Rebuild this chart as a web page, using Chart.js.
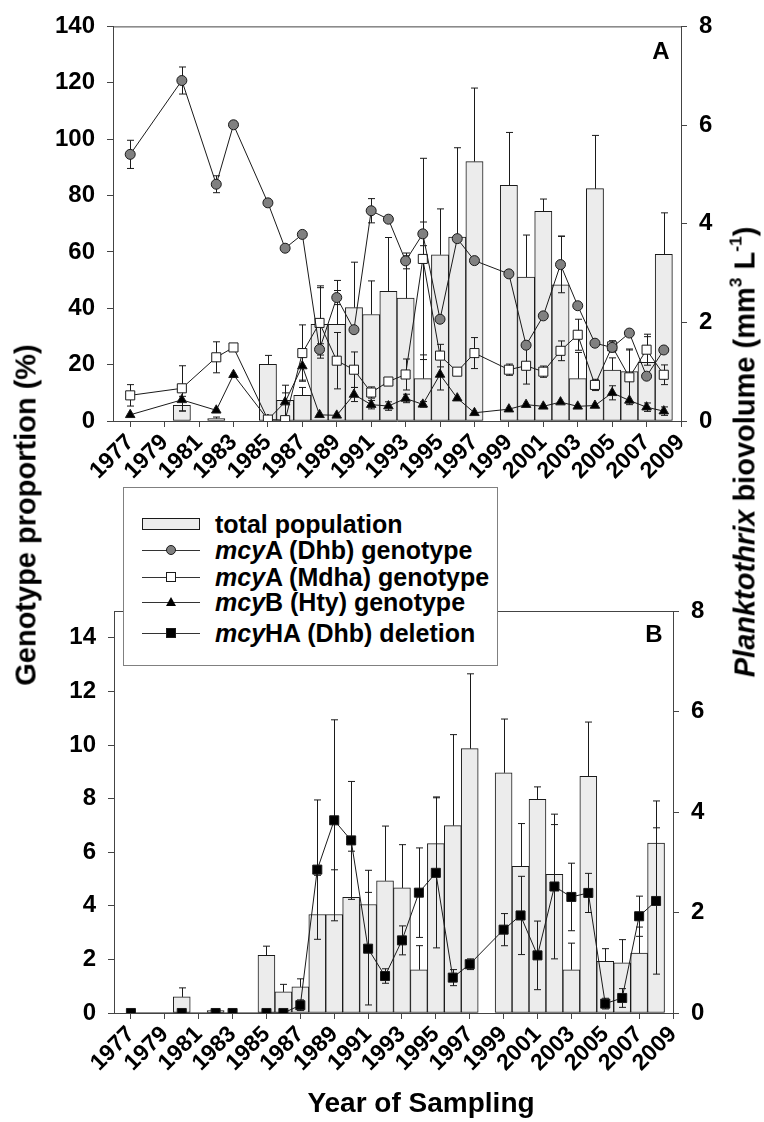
<!DOCTYPE html>
<html>
<head>
<meta charset="utf-8">
<title>Planktothrix genotypes 1977-2009</title>
<script src="https://cdn.jsdelivr.net/npm/chart.js@4.4.1/dist/chart.umd.min.js"></script>
<style>
  body { margin: 0; background: #fff; }
  #page { position: relative; width: 764px; height: 1122px; overflow: hidden;
          font-family: "Liberation Sans", Arial, sans-serif; font-weight: bold; color: #000; }
  #page canvas { position: absolute; left: 0; }
  .title { position: absolute; white-space: nowrap; line-height: 1; }
  .vert { transform: translate(-50%, -50%) rotate(-90deg); }
  .title sup { font-size: 60%; vertical-align: 0; position: relative; top: -0.75em; }
  #legend { position: absolute; left: 123px; top: 487px; width: 373px; height: 177px;
            border: 1.5px solid #808080; background: #fff; }
  .row { position: absolute; left: 18px; height: 26px; display: flex; align-items: center;
         font-size: 25px; white-space: nowrap; }
  .row svg { margin-right: 15px; flex: none; }
</style>
</head>
<body>
<div id="page">
  <canvas id="panelA" width="764" height="490" style="top:0"></canvas>
  <canvas id="panelB" width="764" height="642" style="top:480px"></canvas>
  <div class="title vert" style="left:26px; top:515px; font-size:29px">Genotype proportion (%)</div>
  <div class="title vert" style="left:745px; top:452px; font-size:29px"><i>Planktothrix</i> biovolume (mm<sup>3</sup> L<sup>-1</sup>)</div>
  <div class="title" style="left:421px; top:1089px; font-size:28px; transform:translateX(-50%)">Year of Sampling</div>
  <div id="legend"></div>
</div>
<script>
// ---- data (one entry per year, null = not sampled) ----
const years = [1977, 1978, 1979, 1980, 1981, 1982, 1983, 1984, 1985, 1986, 1987,
  1988, 1989, 1990, 1991, 1992, 1993, 1994, 1995, 1996, 1997, 1998,
  1999, 2000, 2001, 2002, 2003, 2004, 2005, 2006, 2007, 2008, 2009];
const tickYears = [1977, 1979, 1981, 1983, 1985, 1987, 1989, 1991, 1993,
  1995, 1997, 1999, 2001, 2003, 2005, 2007, 2009];
const genoTicksA = [0, 20, 40, 60, 80, 100, 120, 140];
const genoTicksB = [0, 2, 4, 6, 8, 10, 12, 14];
const bioTicks = [0, 2, 4, 6, 8];

// total population biovolume (mm3 L-1) and its upper error
const biovolume = [null, null, null, 0.32, null, 0.05, null, null, 1.15, 0.42, 0.52,
  1.96, 1.96, 2.30, 2.16, 2.63, 2.49, 0.86, 3.37, 3.73, 5.26, null,
  4.78, 2.92, 4.25, 2.76, 0.86, 4.71, 1.03, 1.00, 1.19, 3.38, null];
const biovolumeErr = [null, null, null, 0.18, null, 0.03, null, null, 0.18, 0.15, 0.16,
  0.78, 0.89, 0.92, 0.68, 1.09, 0.86, 0.48, 0.93, 1.81, 1.49, null,
  1.07, 0.85, 0.25, 0.99, 0.53, 1.08, 0.25, 0.46, 0.52, 0.84, null];

// panel A, % of population
const dhb = [94.6, null, null, 120.8, null, 84.0, 105.1, null, 77.4, 61.3, 66.2,
  25.4, 43.8, 32.4, 74.6, 71.6, 56.8, 66.4, 36.1, 64.7, 56.9, null,
  52.2, 26.9, 37.3, 55.5, 40.9, 27.6, 26.1, 31.2, 15.9, 25.2, null];
const dhbErr = [5.0, null, null, 4.8, null, 3.0, 1.2, null, 0, 0, 0,
  2.0, 2.5, 0, 4.3, 0, 2.8, 4.2, 0, 0, 0, null,
  0, 0, 0, 10.0, 0, 0, 1.5, 0, 0, 0, null];
const mdha = [9.1, null, null, 11.6, null, 22.6, 26.1, null, 0.5, 0.3, 24.1,
  34.8, 21.4, 18.2, 10.1, 14.0, 16.5, 57.5, 23.2, 17.5, 24.1, null,
  18.2, 19.6, 17.5, 24.9, 30.6, 12.8, 26.5, 15.5, 25.3, 16.4, null];
const mdhaErr = [3.8, null, null, 8.0, null, 5.5, 0, null, 0, 0, 10.0,
  12.5, 10.0, 6.3, 2.0, 0, 5.5, 35.7, 4.0, 0, 5.5, null,
  2.0, 6.5, 2.0, 3.5, 5.5, 2.0, 2.0, 9.7, 5.5, 3.5, null];
const hty = [2.2, null, null, 7.5, null, 3.8, 16.4, null, 0.5, 6.7, 19.5,
  2.2, 2.0, 9.4, 5.8, 5.3, 8.0, 5.9, 16.5, 8.1, 2.9, null,
  4.2, 5.8, 5.2, 6.7, 5.2, 5.5, 10.0, 7.3, 4.9, 3.5, null];
const htyErr = [0, null, null, 4.0, null, 0, 0, null, 0, 6.0, 5.0,
  0, 0, 2.5, 1.5, 1.5, 1.5, 1.0, 5.5, 0, 0, null,
  0, 0, 0, 0, 0, 0, 2.5, 0, 1.5, 1.5, null];

// panel B, % of population
const deletion = [0, null, null, 0, null, 0, 0, null, 0, 0, 0.29,
  5.35, 7.19, 6.44, 2.40, 1.38, 2.71, 4.49, 5.23, 1.32, 1.82, null,
  3.11, 3.64, 2.15, 4.72, 4.33, 4.48, 0.35, 0.56, 3.61, 4.18, null];
const deletionErr = [0, null, null, 0, null, 0, 0, null, 0, 0, 0.2,
  2.6, 3.75, 2.2, 2.1, 0.27, 0.54, 1.67, 2.8, 0.3, 0.2, null,
  0.6, 1.46, 1.28, 2.7, 1.26, 0.73, 0.2, 0.35, 0.75, 2.73, null];

// ---- styling ----
const FONT = "'Liberation Sans', Arial, sans-serif";
const AXIS = '#444';
const INK = '#1a1a1a';
Chart.defaults.font.family = FONT;
Chart.defaults.color = '#000';

const points = vals => years.map((x, i) => ({ x, y: vals[i] }));

// vertical error bars, drawn right after the bars so markers sit on top
const errorBars = {
  id: 'errorBars',
  afterDatasetDraw(chart, args) {
    if (args.meta.type !== 'bar') return;
    const { ctx, scales } = chart;
    ctx.save();
    ctx.strokeStyle = INK;
    ctx.lineWidth = 1;
    chart.data.datasets.forEach(ds => {
      if (!ds.errors) return;
      const ys = scales[ds.yAxisID];
      const both = ds.type === 'line';
      ds.data.forEach((p, i) => {
        const e = ds.errors[i];
        if (p.y == null || !e) return;
        const x = Math.round(scales.x.getPixelForValue(p.x)) + 0.5;
        const hi = ys.getPixelForValue(p.y + e);
        const lo = ys.getPixelForValue(both ? p.y - e : p.y);
        ctx.beginPath();
        ctx.moveTo(x, lo); ctx.lineTo(x, hi);
        ctx.moveTo(x - 3.5, hi); ctx.lineTo(x + 3.5, hi);
        if (both) { ctx.moveTo(x - 3.5, lo); ctx.lineTo(x + 3.5, lo); }
        ctx.stroke();
      });
    });
    ctx.restore();
  }
};

// top border line and the panel letter
const frame = {
  id: 'frame',
  afterDraw(chart, args, opts) {
    const { ctx, chartArea: a } = chart;
    ctx.save();
    ctx.strokeStyle = AXIS;
    ctx.lineWidth = 1;
    ctx.beginPath();
    ctx.moveTo(a.left, a.top + 0.5); ctx.lineTo(a.right, a.top + 0.5);
    ctx.stroke();
    ctx.font = 'bold 24px ' + FONT;
    ctx.fillStyle = '#000';
    ctx.textAlign = 'center';
    ctx.textBaseline = 'middle';
    ctx.fillText(opts.tag, a.right - opts.dx, a.top + opts.dy);
    ctx.restore();
  }
};

function xAxis(height) {
  return {
    type: 'linear', min: 1976, max: 2009, offset: false,
    afterBuildTicks: s => { s.ticks = tickYears.map(value => ({ value })); },
    afterFit: s => { s.height = height; },
    border: { color: AXIS, width: 1 },
    grid: { drawOnChartArea: false, tickLength: 6, color: AXIS, offset: false },
    ticks: { autoSkip: false, minRotation: 45, maxRotation: 45, padding: 2, color: '#000',
             font: { size: 23, weight: 'bold' }, callback: v => String(v) }
  };
}

function yAxis(position, max, tickList) {
  return {
    type: 'linear', position, min: 0, max,
    afterBuildTicks: s => { s.ticks = tickList.map(value => ({ value })); },
    afterFit: s => { s.width = 60; },
    border: { color: AXIS, width: 1 },
    grid: { drawOnChartArea: false, tickLength: 6, color: AXIS },
    ticks: { padding: 12, color: '#000', font: { size: 24, weight: 'bold' } }
  };
}

function series(label, vals, errs, style) {
  return Object.assign({
    type: 'line', label, data: points(vals), errors: errs, yAxisID: 'y',
    borderColor: INK, borderWidth: 1, spanGaps: true, tension: 0,
    pointBorderColor: INK, pointBorderWidth: 1, order: 0
  }, style);
}

function populationBars() {
  return {
    type: 'bar', label: 'total population', data: points(biovolume), errors: biovolumeErr,
    yAxisID: 'y1', backgroundColor: '#ececec', borderColor: INK, borderWidth: 1,
    borderSkipped: false, barPercentage: 1, categoryPercentage: 1, order: 5
  };
}

const circle = { pointStyle: 'circle', pointRadius: 5, pointBackgroundColor: '#808080' };
const openSquare = { pointStyle: 'rect', pointRadius: 6.4, pointBackgroundColor: '#fff' };
const triangle = { pointStyle: 'triangle', pointRadius: 5.5, pointBackgroundColor: '#000' };
const blackSquare = { pointStyle: 'rect', pointRadius: 6.4, pointBackgroundColor: '#000' };

new Chart(document.getElementById('panelA'), {
  type: 'bar',
  data: {
    datasets: [
      series('mcyA (Dhb) genotype', dhb, dhbErr, circle),
      series('mcyA (Mdha) genotype', mdha, mdhaErr, openSquare),
      series('mcyB (Hty) genotype', hty, htyErr, triangle),
      populationBars()
    ]
  },
  options: {
    responsive: false, animation: false, events: [],
    layout: { padding: { left: 53, right: 23, top: 24, bottom: 9 } },
    scales: { x: xAxis(60), y: yAxis('left', 140, genoTicksA), y1: yAxis('right', 8, bioTicks) },
    plugins: { legend: { display: false }, tooltip: { enabled: false }, frame: { tag: 'A', dx: 20, dy: 26 } }
  },
  plugins: [errorBars, frame]
});

new Chart(document.getElementById('panelB'), {
  type: 'bar',
  data: {
    datasets: [
      series('mcyHA (Dhb) deletion', deletion, deletionErr, blackSquare),
      populationBars()
    ]
  },
  options: {
    responsive: false, animation: false, events: [],
    layout: { padding: { left: 54, right: 31, top: 131, bottom: 0 } },
    scales: { x: xAxis(109), y: yAxis('left', 15, genoTicksB), y1: yAxis('right', 8, bioTicks) },
    plugins: { legend: { display: false }, tooltip: { enabled: false }, frame: { tag: 'B', dx: 19, dy: 24 } }
  },
  plugins: [errorBars, frame]
});

// ---- legend ----
const legendItems = [
  { text: 'total population', mark: 'bar', y: 36 },
  { text: '<i>mcy</i>A (Dhb) genotype', mark: 'circle', y: 62 },
  { text: '<i>mcy</i>A (Mdha) genotype', mark: 'open', y: 89 },
  { text: '<i>mcy</i>B (Hty) genotype', mark: 'triangle', y: 114 },
  { text: '<i>mcy</i>HA (Dhb) deletion', mark: 'square', y: 145 }
];
const marks = {
  bar: '<rect x="0.5" y="1.5" width="57" height="11" fill="#ececec" stroke="' + INK + '"/>',
  circle: '<circle cx="29" cy="7" r="4.5" fill="#808080" stroke="' + INK + '"/>',
  open: '<rect x="24.5" y="2.5" width="9" height="9" fill="#fff" stroke="' + INK + '"/>',
  triangle: '<polygon points="29,2 34,11 24,11" fill="#000"/>',
  square: '<rect x="24.5" y="2.5" width="9" height="9" fill="#000" stroke="' + INK + '"/>'
};
const legend = document.getElementById('legend');
legendItems.forEach(item => {
  const line = item.mark === 'bar' ? '' : '<line x1="0" y1="7.5" x2="58" y2="7.5" stroke="#333" stroke-width="1"/>';
  const row = document.createElement('div');
  row.className = 'row';
  row.style.top = (item.y - 13) + 'px';
  row.innerHTML = '<svg width="58" height="14">' + line + marks[item.mark] + '</svg><span>' + item.text + '</span>';
  legend.appendChild(row);
});
</script>
</body>
</html>
